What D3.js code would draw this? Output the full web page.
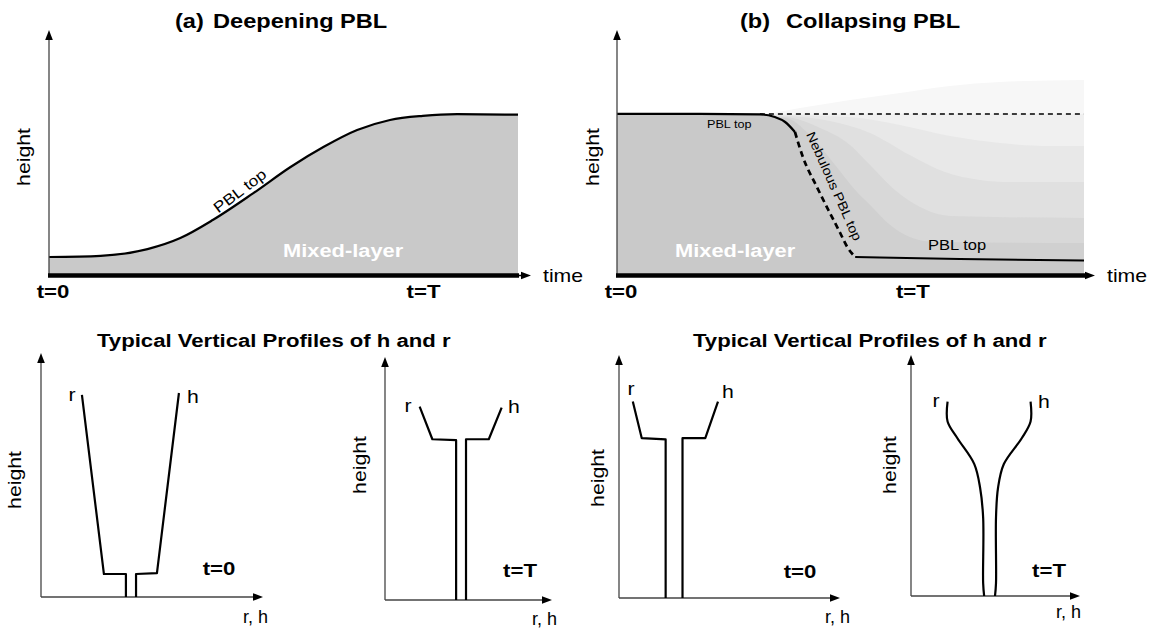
<!DOCTYPE html>
<html>
<head>
<meta charset="utf-8">
<script src="https://cdn.jsdelivr.net/npm/d3@7"></script>
<style>
  body { margin: 0; background: #fff; }
  svg { display: block; }
  text { font-family: "Liberation Sans", Arial, Helvetica, sans-serif; }
</style>
</head>
<body>
<svg id="fig" width="1158" height="631"></svg>
<script>
// ---------------- data (time 0..100, height 0..100) ----------------
// (a) deepening boundary layer: top of the mixed layer through the day
const deepeningTop = [[0,7.5],[11,8],[21,10.8],[28,15.4],[35,23],[43.5,34],[51.5,45],[58.5,53.3],
                      [65.7,60.4],[72.7,64.6],[79.7,66.3],[87,67],[100,66.8]];

// (b) collapsing boundary layer
const collapsingTop = [[0,67.1],[17.8,67.1],[30.6,66.9],[33.8,65.8],[36,63.75],[38.1,59.6]];
const nebulousTop   = [[38.1,59.6],[39.8,49.2],[42.8,36.7],[45.6,25.8],[47.8,17.5],[49.3,11.7],[51,7.5]];
const stableTop     = [[51,7.5],[73.4,6.7],[100,6]];
const residualLevel = [[30.6,67.1],[100,67.1]];
const residualTop   = [[0,67.1],[30.6,67.1],[39.2,69.6],[49.9,72.9],[60.6,75.8],[71.3,78.75],[82,80.4],[100,81.25]];
// decaying layers between the old and the new PBL top (upper to lower)
const decay4 = [[0,67.1],[36,66.7],[49.9,65.8],[60.6,62.5],[71.3,57.9],[82,55],[92.7,53.75],[100,53.75]];
const decay3 = [[0,67.1],[36,66.25],[45.6,64.2],[54.2,59.2],[62.7,50],[70.2,42.9],[77.7,39.6],[84.2,38.75],[100,38.75]];
const decay2 = [[0,67.1],[36,65.8],[43.5,61.25],[49.9,54.2],[54.2,45.8],[59.5,35.4],[64.9,28.3],[71.3,24.6],[100,23.75]];
const decay1 = [[0,67.1],[36,65.4],[41.3,58.3],[46.7,45.8],[51,35.4],[54.2,29.2],[58.5,20.8],[62.7,15.8],[68.1,13.75],[100,13.3]];

const deepeningTicks  = [{t:0, label:"t=0"}, {t:79, label:"t=T"}];
const collapsingTicks = [{t:0, label:"t=0"}, {t:62.5, label:"t=T"}];

// typical vertical profiles: [value of r or h, height]
const profR = [
  [[18.6,83.5],[28.6,9.5],[38.6,9.5],[38.6,0]],
  [[21,80.2],[28.7,66.7],[43.1,66.3],[43.1,0]],
  [[6.3,81.5],[10.4,66.3],[21.3,65.8],[21.3,0]],
  [[21.9,81.3],[21.9,73],[27.8,66],[37.9,55.2],[41.4,45.2],[43.2,32.8],[43.2,5.4],[43.8,0]]
];
const profH = [
  [[62.7,84.3],[52.7,9.9],[43.2,9.5],[43.2,0]],
  [[70.7,79.8],[62.9,66.7],[49.1,66.7],[49.1,0]],
  [[45.2,81.5],[39.4,66.3],[29,66.3],[29,0]],
  [[71.6,81.3],[71.6,73],[66.3,66],[55.6,55.2],[52.1,45.2],[50.9,32.8],[50.9,5.4],[50.3,0]]
];
const profTimes = ["t=0", "t=T", "t=0", "t=T"];
const profSmooth = [false, false, false, true];

// ---------------- drawing ----------------
const svg = d3.select("#fig");
const GREY = "#c9c9c9";
const shades = { residualTop:"#f7f7f7", residualLevel:"#f0f0f0", d4:"#e8e8e8", d3:"#e0e0e0", d2:"#d8d8d8", d1:"#d0d0d0" };

function label(g, txt, x, y, o) {
  o = o || {};
  return g.append("text")
    .attr("transform", `translate(${x},${y}) rotate(${o.rotate || 0}) scale(${o.sx || 1.18},1)`)
    .attr("text-anchor", o.anchor || "start")
    .attr("font-size", o.size || 18)
    .attr("font-weight", o.bold ? "bold" : "normal")
    .attr("fill", o.fill || "#000")
    .text(txt);
}
function arrowHead(g, x, y, dir) {
  const L = 10, W = 3.8;
  const pts = dir === "up" ? [[x,y],[x-W,y+L],[x+W,y+L]] : [[x,y],[x-L,y-W],[x-L,y+W]];
  g.append("path").attr("d", d3.line()(pts) + "Z").attr("fill", "#000");
}

// ---- top panels ----
function timePanel(cfg) {
  const g = svg.append("g");
  const x = d3.scaleLinear().domain([0,100]).range([cfg.x0, cfg.x1]);
  const y = d3.scaleLinear().domain([0,100]).range([275, 35]);
  const area = d3.area().x(d => x(d[0])).y0(y(0)).y1(d => y(d[1])).curve(d3.curveMonotoneX);
  const line = d3.line().x(d => x(d[0])).y(d => y(d[1])).curve(d3.curveMonotoneX);
  cfg.draw(g, x, y, area, line);

  // axes
  g.append("line").attr("x1", x(0)).attr("x2", x(0)).attr("y1", y(0) + 2).attr("y2", 38)
    .attr("stroke", "#444").attr("stroke-width", 1.3);
  arrowHead(g, x(0), 30, "up");
  g.append("line").attr("x1", x(100)).attr("x2", cfg.tip - 6).attr("y1", y(0) + 0.5).attr("y2", y(0) + 0.5)
    .attr("stroke", "#000").attr("stroke-width", 1.5);
  arrowHead(g, cfg.tip, y(0) + 0.5, "right");
  g.append("line").attr("x1", x(0) - 1).attr("x2", x(100) + 1).attr("y1", y(0) + 0.5).attr("y2", y(0) + 0.5)
    .attr("stroke", "#000").attr("stroke-width", 4.5);

  label(g, "time", cfg.tip + 12, 282, {size: 18});
  label(g, "height", cfg.heightX, 157, {size: 18, rotate: -90, anchor: "middle"});
  cfg.ticks.forEach(tk => label(g, tk.label, x(tk.t) + 4, 298, {size: 18.5, bold: true, anchor: "middle", sx: 1.2}));
  label(g, cfg.tag, cfg.tagX, 28, {size: 20, bold: true});
  label(g, cfg.title, cfg.titleX, 28, {size: 20, bold: true});
  label(g, "Mixed-layer", cfg.mixX, 257, {size: 19, bold: true, fill: "#fff", sx: 1.15});
  return g;
}

timePanel({
  x0: 49, x1: 518, tip: 531, heightX: 29.5, ticks: deepeningTicks,
  tag: "(a)", tagX: 175, title: "Deepening PBL", titleX: 213, mixX: 283,
  draw(g, x, y, area, line) {
    g.append("path").datum(deepeningTop).attr("d", area).attr("fill", GREY);
    g.append("path").datum(deepeningTop).attr("d", line)
      .attr("fill", "none").attr("stroke", "#000").attr("stroke-width", 2.2);
    label(g, "PBL top", 243, 195, {size: 15, rotate: -37, anchor: "middle", sx: 1.17});
  }
});

timePanel({
  x0: 617, x1: 1084, tip: 1095, heightX: 599, ticks: collapsingTicks,
  tag: "(b)", tagX: 740, title: "Collapsing PBL", titleX: 786, mixX: 675,
  draw(g, x, y, area, line) {
    const layers = [
      [residualTop, shades.residualTop],
      [[[0,67.1]].concat(residualLevel), shades.residualLevel],
      [decay4, shades.d4], [decay3, shades.d3], [decay2, shades.d2], [decay1, shades.d1]
    ];
    layers.forEach(([pts, c]) => g.append("path").datum(pts).attr("d", area).attr("fill", c));
    const pbl = collapsingTop.concat(nebulousTop.slice(1), stableTop.slice(1));
    g.append("path").datum(pbl).attr("d", area).attr("fill", GREY);

    g.append("path").datum(residualLevel).attr("d", line).attr("fill", "none")
      .attr("stroke", "#000").attr("stroke-width", 1.6).attr("stroke-dasharray", "5,4");
    g.append("path").datum(collapsingTop).attr("d", line).attr("fill", "none")
      .attr("stroke", "#000").attr("stroke-width", 2.2);
    g.append("path").datum(nebulousTop).attr("d", line).attr("fill", "none")
      .attr("stroke", "#000").attr("stroke-width", 2.7).attr("stroke-dasharray", "6,4");
    g.append("path").datum(stableTop).attr("d", line).attr("fill", "none")
      .attr("stroke", "#000").attr("stroke-width", 2);

    label(g, "PBL top", 707, 128, {size: 11, sx: 1.15});
    label(g, "Nebulous PBL top", 830, 188, {size: 13, rotate: 66, anchor: "middle", sx: 1.13});
    label(g, "PBL top", 928, 250, {size: 14, sx: 1.18});
  }
});

// ---- bottom panels: vertical profiles ----
const frames = [
  {x0: 41,  y0: 597, xTip: 263,  yTip: 353, hX: 21,  hY: 480, rX: 72,  rY: 401, hlX: 187,  hlY: 403, tX: 219,  tY: 575, rhX: 243,  rhY: 623},
  {x0: 385, y0: 600, xTip: 552,  yTip: 357, hX: 366, hY: 465, rX: 408, rY: 412, hlX: 508,  hlY: 413, tX: 520,  tY: 577, rhX: 532,  rhY: 625},
  {x0: 619, y0: 598, xTip: 840,  yTip: 355, hX: 604, hY: 478, rX: 631, rY: 395, hlX: 722,  hlY: 398, tX: 800,  tY: 578, rhX: 825,  rhY: 623},
  {x0: 911, y0: 596, xTip: 1080, yTip: 355, hX: 896, hY: 465, rX: 936, rY: 407, hlX: 1038, hlY: 408, tX: 1049, tY: 577, rhX: 1056, rhY: 618}
];

frames.forEach((f, i) => {
  const g = svg.append("g");
  const x = d3.scaleLinear().domain([0,100]).range([f.x0, f.xTip - 2]);
  const y = d3.scaleLinear().domain([0,100]).range([f.y0, f.yTip + 2]);
  g.append("line").attr("x1", f.x0).attr("x2", f.x0).attr("y1", f.y0).attr("y2", f.yTip + 8)
    .attr("stroke", "#444").attr("stroke-width", 1.3);
  g.append("line").attr("x1", f.x0).attr("x2", f.xTip - 8).attr("y1", f.y0).attr("y2", f.y0)
    .attr("stroke", "#444").attr("stroke-width", 1.3);
  arrowHead(g, f.x0, f.yTip, "up");
  arrowHead(g, f.xTip, f.y0, "right");

  const line = d3.line().x(d => x(d[0])).y(d => y(d[1]))
    .curve(profSmooth[i] ? d3.curveCatmullRom.alpha(0.5) : d3.curveLinear);
  [profR[i], profH[i]].forEach(p => g.append("path").datum(p).attr("d", line)
    .attr("fill", "none").attr("stroke", "#000").attr("stroke-width", 2.2).attr("stroke-linejoin", "round"));

  label(g, "height", f.hX, f.hY, {size: 18, rotate: -90, anchor: "middle"});
  label(g, "r", f.rX, f.rY, {size: 18, anchor: "middle"});
  label(g, "h", f.hlX, f.hlY, {size: 18});
  label(g, profTimes[i], f.tX, f.tY, {size: 18.5, bold: true, anchor: "middle", sx: 1.2});
  label(g, "r, h", f.rhX, f.rhY, {size: 18, sx: 1.0});
});

label(svg, "Typical Vertical Profiles of h and r", 97, 347, {size: 18, bold: true, sx: 1.23});
label(svg, "Typical Vertical Profiles of h and r", 693, 347, {size: 18, bold: true, sx: 1.23});
</script>
</body>
</html>
